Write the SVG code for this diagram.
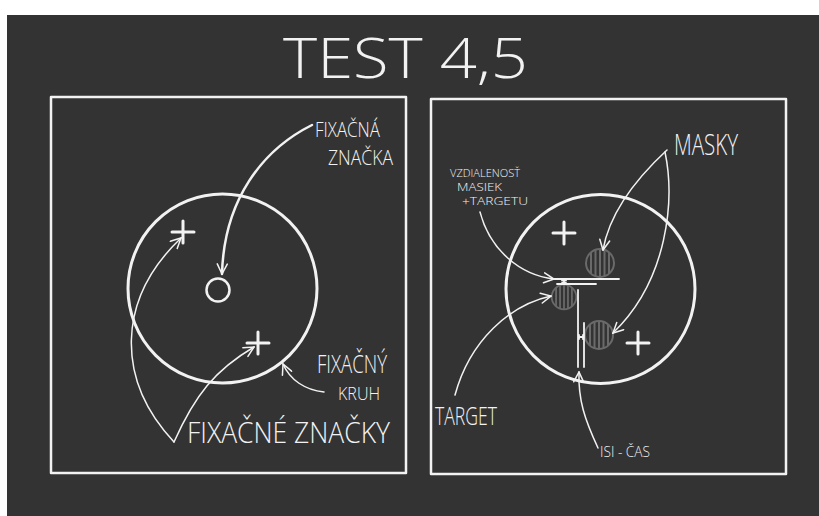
<svg xmlns="http://www.w3.org/2000/svg" width="819" height="516" viewBox="0 0 819 516">
<defs>
<style>
.ln{fill:none;stroke:#f2f2f2;stroke-linecap:round;stroke-linejoin:round}
.t{fill:#f2f2f2;font-family:"Open Sans","Liberation Sans","DejaVu Sans",sans-serif;font-weight:300}
.h{fill:none;stroke:#6a6a6a;stroke-width:2}
</style>
<marker id="ah" viewBox="0 0 12 12" refX="11" refY="6" markerWidth="12" markerHeight="12" markerUnits="userSpaceOnUse" orient="auto">
<path d="M1,1 L11,6 L1,11" fill="none" stroke="#f2f2f2" stroke-width="1.5" stroke-linecap="round"/>
</marker>
<g id="hatch">
<circle class="h" cx="0" cy="0" r="14"/>
<path class="h" stroke-width="1.6" d="M-9,-10.7V10.7M-4.5,-13.3V13.3M0,-14V14M4.5,-13.3V13.3M9,-10.7V10.7"/>
</g>
</defs>
<rect x="0" y="0" width="819" height="516" fill="#ffffff"/>
<rect x="7" y="15" width="812" height="501" fill="#333333"/>

<g id="title"><text class="t" x="283" y="78" font-size="55" textLength="245" lengthAdjust="spacingAndGlyphs">TEST 4,5</text></g>

<g id="panel-left">
<rect class="ln" x="51" y="97" width="355" height="376" stroke-width="2.5"/>
<circle class="ln" cx="222.5" cy="288.5" r="94.5" stroke-width="3"/>
</g>
<g id="fixation-mark"><circle class="ln" cx="218" cy="290" r="11.5" stroke-width="2.5"/></g>
<g id="cross-l1"><path class="ln" stroke-width="3" d="M172,232H194M183,221V243"/></g>
<g id="cross-l2"><path class="ln" stroke-width="3" d="M247,343H269M258,332V354"/></g>
<g id="label-fixacna-znacka">
<text class="t" x="315" y="137" font-size="20" textLength="65" lengthAdjust="spacingAndGlyphs">FIXAČNÁ</text>
<text class="t" x="328" y="165" font-size="20" textLength="65" lengthAdjust="spacingAndGlyphs">ZNAČKA</text>
</g>
<g id="label-fixacny-kruh">
<text class="t" x="317" y="373" font-size="26" textLength="70" lengthAdjust="spacingAndGlyphs">FIXAČNÝ</text>
<text class="t" x="338" y="400" font-size="18" textLength="42" lengthAdjust="spacingAndGlyphs">KRUH</text>
</g>
<g id="label-fixacne-znacky">
<text class="t" x="187" y="443" font-size="29" textLength="203" lengthAdjust="spacingAndGlyphs">FIXAČNÉ ZNAČKY</text>
</g>

<g id="panel-right">
<rect class="ln" x="431" y="99" width="355" height="375" stroke-width="2.5"/>
<circle class="ln" cx="600.5" cy="289" r="94.5" stroke-width="3"/>
</g>
<g id="cross-r1"><path class="ln" stroke-width="3" d="M553,233H575M564,222V244"/></g>
<g id="cross-r2"><path class="ln" stroke-width="3" d="M627,343H649M638,332V354"/></g>
<g id="mask-top"><use href="#hatch" transform="translate(600,263)"/></g>
<g id="target"><use href="#hatch" transform="translate(564,297) scale(0.88)"/></g>
<g id="mask-bottom"><use href="#hatch" transform="translate(599,335)"/></g>
<g id="distance-marks">
<path class="ln" stroke-width="1.8" d="M552,279H619M557,284H596M562,280.5H566M564,280.5V283M562,283H566"/>
<path class="ln" stroke-width="1.8" d="M578,290V367M584,323V367M579,337H583M579,335V339M583,335V339"/>
</g>
<g id="label-masky"><text class="t" x="674" y="155" font-size="30" textLength="64" lengthAdjust="spacingAndGlyphs">MASKY</text></g>
<g id="label-vzdialenost">
<text class="t" x="450" y="177" font-size="10" textLength="70" lengthAdjust="spacingAndGlyphs">VZDIALENOSŤ</text>
<text class="t" x="457" y="191" font-size="10" textLength="45" lengthAdjust="spacingAndGlyphs">MASIEK</text>
<text class="t" x="462" y="205" font-size="10" textLength="66" lengthAdjust="spacingAndGlyphs">+TARGETU</text>
</g>
<g id="label-target"><text class="t" x="435" y="425" font-size="26" textLength="62" lengthAdjust="spacingAndGlyphs">TARGET</text></g>
<g id="label-isi"><text class="t" x="600" y="457" font-size="15" textLength="50" lengthAdjust="spacingAndGlyphs">ISI - ČAS</text></g>

<g id="connectors">
<path class="ln" stroke-width="2.5" marker-end="url(#ah)" d="M312,125 C262,150 224,200 222,274"/>
<path class="ln" stroke-width="1.5" marker-end="url(#ah)" d="M324,392 C305,390 290,380 283,364"/>
<path class="ln" stroke-width="1.5" marker-end="url(#ah)" d="M174,442 C116,380 116,300 181,238"/>
<path class="ln" stroke-width="1.5" marker-end="url(#ah)" d="M174,442 C195,395 215,370 254,347"/>
<path class="ln" stroke-width="1.5" marker-end="url(#ah)" d="M667,150 C640,175 610,210 603,250"/>
<path class="ln" stroke-width="1.5" marker-end="url(#ah)" d="M665,152 C675,200 668,280 613,333"/>
<path class="ln" stroke-width="1.5" marker-end="url(#ah)" d="M480,212 C490,250 520,275 554,279"/>
<path class="ln" stroke-width="1.5" marker-end="url(#ah)" d="M455,395 C470,340 510,305 551,296"/>
<path class="ln" stroke-width="1.5" marker-end="url(#ah)" d="M598,448 C585,420 578,400 579,372"/>
</g>
</svg>
